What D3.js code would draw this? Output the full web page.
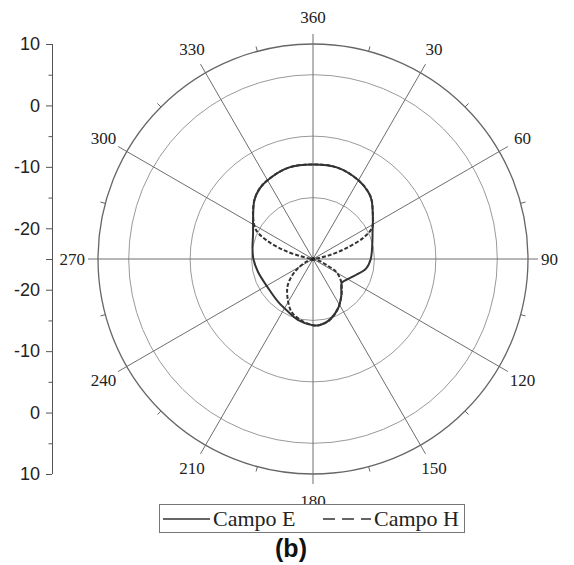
<!DOCTYPE html>
<html>
<head>
<meta charset="utf-8">
<script src="https://cdn.jsdelivr.net/npm/d3@7"></script>
<style>
  body { margin: 0; background: #fff; }
  svg { display: block; }
</style>
</head>
<body>
<svg id="chart" width="574" height="565"></svg>
<script>
// angle labels (degrees, 0 at top, clockwise)
var angleTicks = [360, 30, 60, 90, 120, 150, 180, 210, 240, 270, 300, 330];
// left radial axis labels (dB)
var radialTicks = [10, 0, -10, -20];
var radialMinor = [5, -5, -15];
// grid circles (dB)
var gridLevels = [-15, -5, 5];

// Campo E (solid)
var anglesE = [0, 15, 30, 40, 45, 55, 65, 75, 90, 100, 110, 122, 130, 142, 153, 165, 174, 180,
  194, 205, 219, 237, 257, 270, 280, 293, 305, 315, 323, 332, 345];
var campoE = [-9.6, -9.6, -10.2, -10.9, -11.5, -13.1, -14.3, -15.0, -15.6, -16.2, -17.5, -18.6, -18.9, -17.5, -16.0, -14.7, -14.2, -14.2,
  -14.8, -15.5, -16.0, -16.3, -15.8, -15.3, -15.0, -14.4, -13.1, -11.5, -10.6, -10.1, -9.6];

// Campo H (dashed)
var anglesH = [0, 15, 30, 40, 45, 55, 62, 67, 72, 77, 83, 90, 100, 107, 114, 119, 129, 142, 153, 165, 174, 180,
  192, 202, 213, 224, 235, 248, 258, 270, 278, 283, 287, 292, 297, 305, 315, 323, 332, 345];
var campoH = [-9.6, -9.6, -10.2, -10.9, -11.5, -13.1, -14.1, -16.0, -19.3, -22.2, -24.5, -25, -24.8, -23.8, -22.6, -20.7, -19.1, -17.5, -16.0, -14.7, -14.2, -14.2,
  -14.9, -15.7, -17.4, -19.1, -21.4, -23.8, -25, -25, -24.5, -22.8, -19.9, -16.8, -14.6, -13.1, -11.5, -10.6, -10.1, -9.6];

var cx = 313, cy = 259, R = 215;
var rad = Math.PI / 180;

var r = d3.scaleLinear().domain([-25, 10]).range([0, R]).clamp(true);

var svg = d3.select("#chart");
var g = svg.append("g").attr("transform", "translate(" + cx + "," + cy + ")");

// grid circles
g.selectAll("circle.grid")
  .data(gridLevels)
  .enter().append("circle")
  .attr("class", "grid")
  .attr("r", function(d) { return r(d); })
  .style("fill", "none")
  .style("stroke", "#9a9a9a")
  .style("stroke-width", 1);

// outer circle
g.append("circle")
  .attr("r", R)
  .style("fill", "none")
  .style("stroke", "#666")
  .style("stroke-width", 1.3);

// spokes
var spokeAngles = d3.range(0, 360, 30);
g.selectAll("line.spoke")
  .data(spokeAngles)
  .enter().append("line")
  .attr("x1", 0).attr("y1", 0)
  .attr("x2", function(d) { return 225 * Math.sin(d * rad); })
  .attr("y2", function(d) { return -225 * Math.cos(d * rad); })
  .style("stroke", "#6e6e6e")
  .style("stroke-width", 1);

// minor ticks on outer circle
g.selectAll("line.otick")
  .data(d3.range(15, 360, 30))
  .enter().append("line")
  .attr("x1", function(d) { return R * Math.sin(d * rad); })
  .attr("y1", function(d) { return -R * Math.cos(d * rad); })
  .attr("x2", function(d) { return (R + 5) * Math.sin(d * rad); })
  .attr("y2", function(d) { return -(R + 5) * Math.cos(d * rad); })
  .style("stroke", "#666")
  .style("stroke-width", 1);

// angle labels
g.selectAll("text.ang")
  .data(angleTicks)
  .enter().append("text")
  .attr("x", function(d) {
    if (d === 90) return 228;
    if (d === 270) return -228;
    return 242 * Math.sin(d * rad);
  })
  .attr("y", function(d) {
    if (d === 90 || d === 270) return 0;
    return -242 * Math.cos(d * rad);
  })
  .attr("text-anchor", function(d) { return d === 90 ? "start" : d === 270 ? "end" : "middle"; })
  .attr("dominant-baseline", "central")
  .style("font-family", "'Liberation Serif', 'Times New Roman', serif")
  .style("font-size", "17px")
  .style("fill", "#222")
  .text(function(d) { return d; });

// pattern curves
function series(angles, values) {
  return angles.map(function(a, i) { return { a: a, v: values[i] }; });
}
var line = d3.lineRadial()
  .angle(function(d) { return d.a * rad; })
  .radius(function(d) { return r(d.v); })
  .curve(d3.curveCatmullRomClosed.alpha(0.5));

g.append("path")
  .datum(series(anglesE, campoE))
  .attr("d", line)
  .style("fill", "none")
  .style("stroke", "#333")
  .style("stroke-width", 2);

g.append("path")
  .datum(series(anglesH, campoH))
  .attr("d", line)
  .style("fill", "none")
  .style("stroke", "#333")
  .style("stroke-width", 2)
  .style("stroke-dasharray", "4,2");

g.append("circle").attr("r", 2).style("fill", "#222");

// left radial axis, mirrored above and below center
var axX = 52;
var yTop = d3.scaleLinear().domain([-25, 10]).range([cy, cy - R]);
var yBot = d3.scaleLinear().domain([-25, 10]).range([cy, cy + R]);

function addAxis(scale) {
  var major = svg.append("g")
    .attr("transform", "translate(" + axX + ",0)")
    .call(d3.axisLeft(scale).tickValues(radialTicks.concat([-25])).tickSize(6).tickPadding(6)
      .tickFormat(function(d) { return d === -25 ? "" : d; }));
  major.select(".domain").remove();
  major.selectAll("line").style("stroke", "#555");
  major.selectAll("text")
    .style("font-family", "'Liberation Sans', Arial, sans-serif")
    .style("font-size", "18px")
    .style("fill", "#222");
  var minor = svg.append("g")
    .attr("transform", "translate(" + axX + ",0)")
    .call(d3.axisLeft(scale).tickValues(radialMinor).tickSize(3.5).tickFormat(""));
  minor.select(".domain").remove();
  minor.selectAll("line").style("stroke", "#555");
}
addAxis(yTop);
addAxis(yBot);

svg.append("line")
  .attr("x1", axX + 0.5).attr("x2", axX + 0.5)
  .attr("y1", cy - R).attr("y2", cy + R)
  .style("stroke", "#555");

// legend
var lg = svg.append("g");
lg.append("rect")
  .attr("x", 159.5).attr("y", 504.5)
  .attr("width", 305).attr("height", 28)
  .style("fill", "#fff")
  .style("stroke", "#777");
lg.append("line")
  .attr("x1", 163).attr("x2", 210).attr("y1", 519).attr("y2", 519)
  .style("stroke", "#333").style("stroke-width", 1.6);
lg.append("text")
  .attr("x", 213).attr("y", 526)
  .style("font-family", "'Liberation Serif', 'Times New Roman', serif")
  .style("font-size", "22px").style("fill", "#222")
  .text("Campo E");
lg.append("line")
  .attr("x1", 323).attr("x2", 371).attr("y1", 519).attr("y2", 519)
  .style("stroke", "#333").style("stroke-width", 1.6)
  .style("stroke-dasharray", "12,7");
lg.append("text")
  .attr("x", 374).attr("y", 526)
  .style("font-family", "'Liberation Serif', 'Times New Roman', serif")
  .style("font-size", "22px").style("fill", "#222")
  .text("Campo H");

svg.append("text")
  .attr("x", 291).attr("y", 557)
  .attr("text-anchor", "middle")
  .style("font-family", "'Liberation Sans', Arial, sans-serif")
  .style("font-weight", "bold")
  .style("font-size", "25px")
  .style("fill", "#111")
  .text("(b)");
</script>
</body>
</html>
